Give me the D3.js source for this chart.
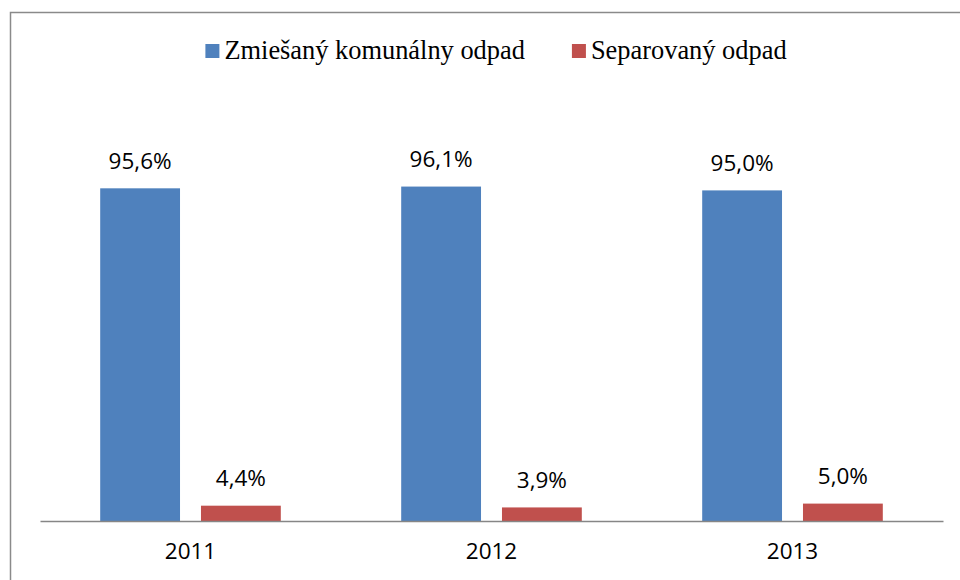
<!DOCTYPE html>
<html lang="sk">
<head>
    <meta charset="UTF-8">
    <title>Zmiešaný komunálny odpad a separovaný odpad</title>
    <script src="https://d3js.org/d3.v7.min.js"></script>
    <style>
        body { margin: 0; background: #fff; }
        .lbl { font-family: "Open Sans", sans-serif; font-size: 22.5px; fill: #000; }
    </style>
</head>
<body>
<div id="chart"></div>
<script>
    // data
    const years = ["2011", "2012", "2013"];
    const seriesNames = ["Zmiešaný komunálny odpad", "Separovaný odpad"];
    const mixedValues = [95.6, 96.1, 95.0];
    const separatedValues = [4.4, 3.9, 5.0];
    const colors = ["#4F81BD", "#C0504D"];

    const W = 960, H = 580;
    const svg = d3.select("#chart").append("svg")
        .attr("width", W).attr("height", H);

    // chart frame
    svg.append("rect")
        .attr("x", 10.5).attr("y", 12.5)
        .attr("width", 960).attr("height", 600)
        .attr("fill", "none")
        .attr("stroke", "#8a8a8a")
        .attr("stroke-width", 1.5);

    const x = d3.scaleBand().domain(years).range([40, 943]);
    const xInner = d3.scaleBand().domain(seriesNames)
        .range([x.bandwidth() * 0.2, x.bandwidth() * 0.8])
        .paddingInner(0.208);
    const y = d3.scaleLinear().domain([0, 120]).range([521, 521 - 3.48 * 120]);

    const locale = d3.formatLocale({decimal: ",", thousands: " ", grouping: [3], currency: ["", "€"]});
    const fmt = v => locale.format(".1f")(v) + "%";

    const rows = years.map((yr, i) => ({
        year: yr,
        vals: [
            {name: seriesNames[0], value: mixedValues[i], color: colors[0]},
            {name: seriesNames[1], value: separatedValues[i], color: colors[1]}
        ]
    }));

    const groups = svg.selectAll(".grp").data(rows).join("g")
        .attr("class", "grp")
        .attr("transform", d => `translate(${x(d.year)},0)`);

    groups.selectAll("rect").data(d => d.vals).join("rect")
        .attr("x", d => xInner(d.name))
        .attr("width", xInner.bandwidth())
        .attr("y", d => y(d.value))
        .attr("height", d => y(0) - y(d.value))
        .attr("fill", d => d.color);

    groups.selectAll("text").data(d => d.vals).join("text")
        .attr("class", "lbl")
        .attr("x", d => xInner(d.name) + xInner.bandwidth() / 2)
        .attr("y", d => y(d.value) - 19.5)
        .attr("text-anchor", "middle")
        .text(d => fmt(d.value));

    // x axis
    const xAxis = svg.append("g")
        .attr("transform", `translate(0,${y(0)})`)
        .call(d3.axisBottom(x).tickSize(0).tickPadding(22));
    xAxis.select(".domain").attr("stroke", "#868686").attr("stroke-width", 1.5);
    xAxis.selectAll(".tick text")
        .attr("class", "lbl")
        .attr("font-family", null).attr("font-size", null)
        .attr("dy", "0.71em");

    // legend
    const legend = svg.append("g");
    const items = legend.selectAll("g").data(seriesNames).join("g");
    items.append("rect")
        .attr("width", 14).attr("height", 14)
        .attr("y", 44)
        .attr("fill", (d, i) => colors[i]);
    items.append("text")
        .attr("x", 19)
        .attr("y", 59)
        .style("font-family", "'Liberation Serif', 'DejaVu Serif', serif")
        .style("font-size", "26.4px")
        .attr("fill", "#000")
        .text(d => d);
    const widths = [];
    items.each(function () {
        widths.push(this.querySelector("text").getComputedTextLength() + 19);
    });
    const gap = 47;
    const total = d3.sum(widths) + gap * (widths.length - 1);
    let off = 496 - total / 2;
    items.attr("transform", (d, i) => {
        const t = `translate(${off},0)`;
        off += widths[i] + gap;
        return t;
    });
</script>
</body>
</html>
